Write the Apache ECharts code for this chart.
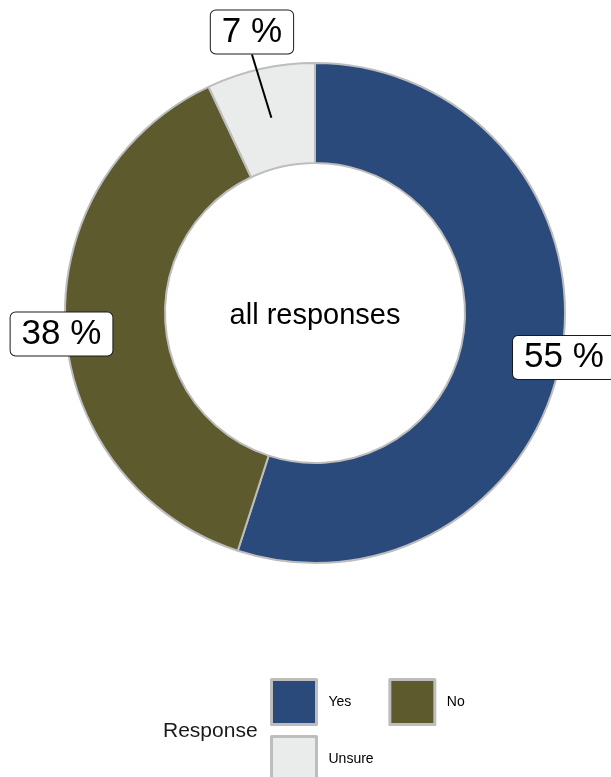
<!DOCTYPE html>
<html>
<head>
<meta charset="utf-8">
<script src="https://cdn.jsdelivr.net/npm/echarts@6/dist/echarts.min.js"></script>
<style>
html,body{margin:0;padding:0;background:#fff;}
#chart{width:611px;height:777px;}
</style>
</head>
<body>
<div id="chart"></div>
<script>
const categories = ['Yes', 'No', 'Unsure'];
const values = [55, 38, 7];
const labelTexts = ['55 %', '38 %', '7 %'];
const centerText = 'all responses';
const legendTitle = 'Response';
const legendRow1 = ['Yes', 'No'];
const legendRow2 = ['Unsure'];

const colors = ['#2a4a7c', '#5d5b2e', '#eaeceb'];
const cx = 315, cy = 313, rIn = 150, rOut = 250;
const labelRadius = [252, 254, 289];
const labelDy = [5, 5, 1];
const lineIdx = 2;

const total = values.reduce((a, b) => a + b, 0);
const midAngles = [];
let acc = 0;
values.forEach(v => { midAngles.push((acc + v / 2) / total * 2 * Math.PI); acc += v; });

const chart = echarts.init(document.getElementById('chart'), null, {renderer: 'canvas'});
const fontFam = '"Liberation Sans", Arial, Helvetica, sans-serif';

const baseData = categories.map((c, i) => ({name: c, value: values[i]}));

const legendCommon = {
  orient: 'horizontal', itemWidth: 45, itemHeight: 45, padding: 0,
  icon: 'rect',
  itemStyle: {borderColor: '#bdbdbd', borderWidth: 3},
  textStyle: {fontFamily: fontFam, fontSize: 14, color: '#000', padding: [0, 0, 0, 7]}
};

chart.setOption({
  animation: false,
  color: colors,
  title: [
    {text: centerText, left: cx, top: cy + 3, textAlign: 'center', textVerticalAlign: 'middle', padding: 0,
     textStyle: {fontFamily: fontFam, fontSize: 29, fontWeight: 'normal', color: '#000'}},
    {text: legendTitle, left: 163, top: 721, padding: 0,
     textStyle: {fontFamily: fontFam, fontSize: 21, fontWeight: 'normal', color: '#1a1a1a'}}
  ],
  legend: [
    Object.assign({}, legendCommon, {left: 270, top: 678, itemGap: 37, data: legendRow1}),
    Object.assign({}, legendCommon, {left: 270, top: 735, itemGap: 37, data: legendRow2})
  ],
  series: [{
    type: 'pie',
    z: 2,
    center: [cx, cy],
    radius: [rIn, rOut],
    startAngle: 90,
    clockwise: true,
    label: {show: false},
    labelLine: {show: false},
    itemStyle: {borderColor: '#bdbdbd', borderWidth: 2},
    data: baseData
  }, {
    type: 'pie',
    z: 5,
    silent: true,
    center: [cx, cy],
    radius: [rIn, rOut],
    startAngle: 90,
    clockwise: true,
    avoidLabelOverlap: false,
    itemStyle: {color: 'rgba(0,0,0,0)', borderWidth: 0},
    emphasis: {disabled: true},
    label: {
      show: true, position: 'outside',
      formatter: p => labelTexts[p.dataIndex],
      fontFamily: fontFam, fontSize: 35, color: '#000',
      lineHeight: 35,
      backgroundColor: '#fff', borderColor: '#1a1a1a', borderWidth: 1, borderRadius: 5,
      padding: [5, 11, 3, 11]
    },
    labelLine: {show: true, showAbove: true, length: 10, length2: 10, lineStyle: {color: '#000', width: 2}},
    labelLayout: function (p) {
      const i = p.dataIndex;
      const a = midAngles[i];
      const x = cx + labelRadius[i] * Math.sin(a);
      const y = cy - labelRadius[i] * Math.cos(a) + labelDy[i];
      const res = {x: x, y: y, align: 'center', verticalAlign: 'middle'};
      if (i === lineIdx) {
        const rm = (rIn + rOut) / 2;
        const h = p.labelRect ? p.labelRect.height : 44;
        res.labelLinePoints = [
          [cx + rm * Math.sin(a), cy - rm * Math.cos(a)],
          [x, y + h / 2],
          [x, y + h / 2]
        ];
      }
      return res;
    },
    data: categories.map((c, i) => ({
      name: c, value: values[i],
      labelLine: {show: i === lineIdx}
    }))
  }]
});
</script>
</body>
</html>
